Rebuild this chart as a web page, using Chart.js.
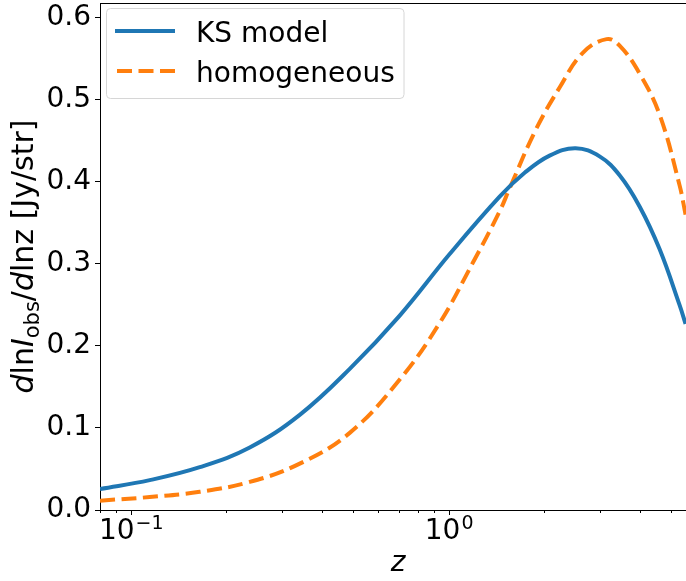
<!DOCTYPE html>
<html>
<head>
<meta charset="utf-8">
<script src="https://cdn.jsdelivr.net/npm/chart.js@4/dist/chart.umd.min.js"></script>
<style>
  html, body { margin: 0; padding: 0; background: #fff; overflow: hidden; width: 686px; height: 581px; }
  #wrap { width: 700px; height: 581px; }
</style>
</head>
<body>
<div id="wrap"><canvas id="c" width="700" height="581"></canvas></div>
<script>
// Redshift samples and dlnI/dlnz for each model
const zKS = [0.08, 0.1147, 0.1648, 0.2367, 0.340, 0.4884, 0.7015, 1.0073, 1.4465, 1.7338, 2.0778, 2.508, 2.984, 3.450, 3.987, 4.608, 5.325, 5.563];
const ksModel = [0.0256, 0.0364, 0.0522, 0.0762, 0.116, 0.172, 0.237, 0.312, 0.382, 0.411, 0.432, 0.441, 0.431, 0.408, 0.370, 0.318, 0.250, 0.227];

const zHom = [0.08, 0.1147, 0.1648, 0.2367, 0.340, 0.4884, 0.7015, 0.937, 1.190, 1.4465, 1.555, 1.877, 2.234, 2.638, 3.140, 3.450, 3.987, 4.608, 5.325, 5.563];
const homogeneous = [0.0114, 0.0158, 0.0222, 0.0342, 0.0565, 0.094, 0.159, 0.228, 0.301, 0.364, 0.392, 0.463, 0.515, 0.557, 0.574, 0.566, 0.532, 0.482, 0.396, 0.360];

const seriesNames = ['KS model', 'homogeneous'];

// Axis ticks
const yTicks = [0.0, 0.1, 0.2, 0.3, 0.4, 0.5, 0.6];
const xTicks = [0.08, 0.09, 0.1, 0.2, 0.3, 0.4, 0.5, 0.6, 0.7, 0.8, 0.9, 1, 2, 3, 4, 5];
const xMajor = [0.1, 1];
const xTickBase = ['10', '10'];
const xTickExp = ['\u22121', '0'];

const FONT = "'DejaVu Sans'";
const BLUE = '#1f77b4';
const ORANGE = '#ff7f0e';
const DASH = [15, 6.5];

const frame = {
  id: 'frame',
  afterDraw(chart) {
    const ctx = chart.ctx;
    const a = chart.chartArea;
    const xs = chart.scales.x;
    ctx.save();
    // top spine
    ctx.strokeStyle = '#000';
    ctx.lineWidth = 1;
    ctx.beginPath();
    ctx.moveTo(a.left, a.top + 0.5);
    ctx.lineTo(a.right, a.top + 0.5);
    ctx.stroke();
    // x ticks: long at decades, short in between
    xTicks.forEach(v => {
      const px = Math.round(xs.getPixelForValue(v)) + 0.5;
      const len = xMajor.includes(v) ? 5 : 3;
      ctx.beginPath();
      ctx.moveTo(px, a.bottom);
      ctx.lineTo(px, a.bottom + len);
      ctx.stroke();
    });
    // decade labels with raised exponent
    ctx.fillStyle = '#000';
    ctx.textBaseline = 'alphabetic';
    ctx.textAlign = 'left';
    xMajor.forEach((v, i) => {
      const px = xs.getPixelForValue(v);
      ctx.font = `28px ${FONT}`;
      const wb = ctx.measureText(xTickBase[i]).width;
      ctx.font = `19px ${FONT}`;
      const we = ctx.measureText(xTickExp[i]).width;
      const x0 = px - (wb + we) / 2;
      ctx.font = `28px ${FONT}`;
      ctx.fillText(xTickBase[i], x0, 539);
      ctx.font = `19px ${FONT}`;
      ctx.fillText(xTickExp[i], x0 + wb + 1, 529);
    });

    // y-axis title with math-style segments
    const size = 30;
    const segs = [
      { t: 'd', f: `italic ${size}px ${FONT}`, dy: 0 },
      { t: 'ln', f: `${size}px ${FONT}`, dy: 0 },
      { t: 'I', f: `italic ${size}px ${FONT}`, dy: 0 },
      { t: 'obs', f: `${size * 0.7}px ${FONT}`, dy: 6 },
      { t: '/', f: `${size}px ${FONT}`, dy: 0 },
      { t: 'd', f: `italic ${size}px ${FONT}`, dy: 0 },
      { t: 'lnz [Jy/str]', f: `${size}px ${FONT}`, dy: 0 }
    ];
    let total = 0;
    segs.forEach(s => { ctx.font = s.f; s.w = ctx.measureText(s.t).width; total += s.w; });
    ctx.translate(33, (a.top + a.bottom) / 2);
    ctx.rotate(-Math.PI / 2);
    let x = -total / 2;
    segs.forEach(s => { ctx.font = s.f; ctx.fillText(s.t, x, s.dy); x += s.w; });
    ctx.restore();

    // legend
    ctx.save();
    const bx = 106.5, by = 8.5, bw = 297.5, bh = 90, r = 4;
    ctx.beginPath();
    ctx.moveTo(bx + r, by);
    ctx.arcTo(bx + bw, by, bx + bw, by + bh, r);
    ctx.arcTo(bx + bw, by + bh, bx, by + bh, r);
    ctx.arcTo(bx, by + bh, bx, by, r);
    ctx.arcTo(bx, by, bx + bw, by, r);
    ctx.closePath();
    ctx.fillStyle = 'rgba(255,255,255,0.8)';
    ctx.fill();
    ctx.strokeStyle = '#d6d6d6';
    ctx.lineWidth = 1;
    ctx.stroke();

    const rows = [
      { y: 31, color: BLUE, dash: [] },
      { y: 71, color: ORANGE, dash: DASH }
    ];
    rows.forEach((row, i) => {
      ctx.beginPath();
      ctx.setLineDash(row.dash);
      ctx.lineDashOffset = row.dash.length ? -2 : 0;
      ctx.strokeStyle = row.color;
      ctx.lineWidth = 4;
      ctx.lineCap = 'butt';
      ctx.moveTo(115, row.y);
      ctx.lineTo(175, row.y);
      ctx.stroke();
      ctx.setLineDash([]);
      ctx.fillStyle = '#000';
      ctx.font = `28px ${FONT}`;
      ctx.textBaseline = 'alphabetic';
      ctx.fillText(seriesNames[i], 196, row.y + 10.5);
    });
    ctx.restore();
  }
};

new Chart(document.getElementById('c'), {
  type: 'line',
  data: {
    datasets: [
      {
        label: seriesNames[0],
        data: zKS.map((z, i) => ({ x: z, y: ksModel[i] })),
        borderColor: BLUE,
        borderWidth: 4,
        pointRadius: 0,
        tension: 0.4,
        fill: false
      },
      {
        label: seriesNames[1],
        data: zHom.map((z, i) => ({ x: z, y: homogeneous[i] })),
        borderColor: ORANGE,
        borderWidth: 4,
        borderDash: DASH,
        pointRadius: 0,
        tension: 0.4,
        fill: false
      }
    ]
  },
  options: {
    responsive: false,
    animation: false,
    events: [],
    layout: { padding: { top: 3, right: 4, left: 0, bottom: 0 } },
    plugins: { legend: { display: false }, tooltip: { enabled: false }, title: { display: false } },
    scales: {
      x: {
        type: 'logarithmic',
        min: 0.08,
        max: 6,
        afterFit(s) { s.height = 71; s.paddingLeft = 0; s.paddingRight = 0; },
        afterBuildTicks(s) { s.ticks = xTicks.map(v => ({ value: v, major: xMajor.includes(v) })); },
        grid: { display: false },
        border: { display: true, color: '#000', width: 1 },
        ticks: {
          autoSkip: false,
          maxRotation: 0,
          minRotation: 0,
          padding: 9,
          color: '#000',
          font: { family: FONT, size: 28 },
          callback() { return ''; }
        },
        title: {
          display: true,
          text: 'z',
          color: '#000',
          font: { family: FONT, size: 28, style: 'italic' },
          padding: { top: 0, bottom: 0 }
        }
      },
      y: {
        min: 0,
        max: 0.618,
        afterFit(s) { s.width = 100; s.paddingTop = 0; s.paddingBottom = 0; },
        afterBuildTicks(s) { s.ticks = yTicks.map(v => ({ value: v })); },
        grid: { display: true, drawOnChartArea: false, drawTicks: true, tickLength: 5, color: '#000' },
        border: { display: true, color: '#000', width: 1 },
        ticks: {
          padding: 4,
          color: '#000',
          font: { family: FONT, size: 28 },
          callback(v) { return v.toFixed(1); }
        }
      }
    }
  },
  plugins: [frame]
});
</script>
</body>
</html>
